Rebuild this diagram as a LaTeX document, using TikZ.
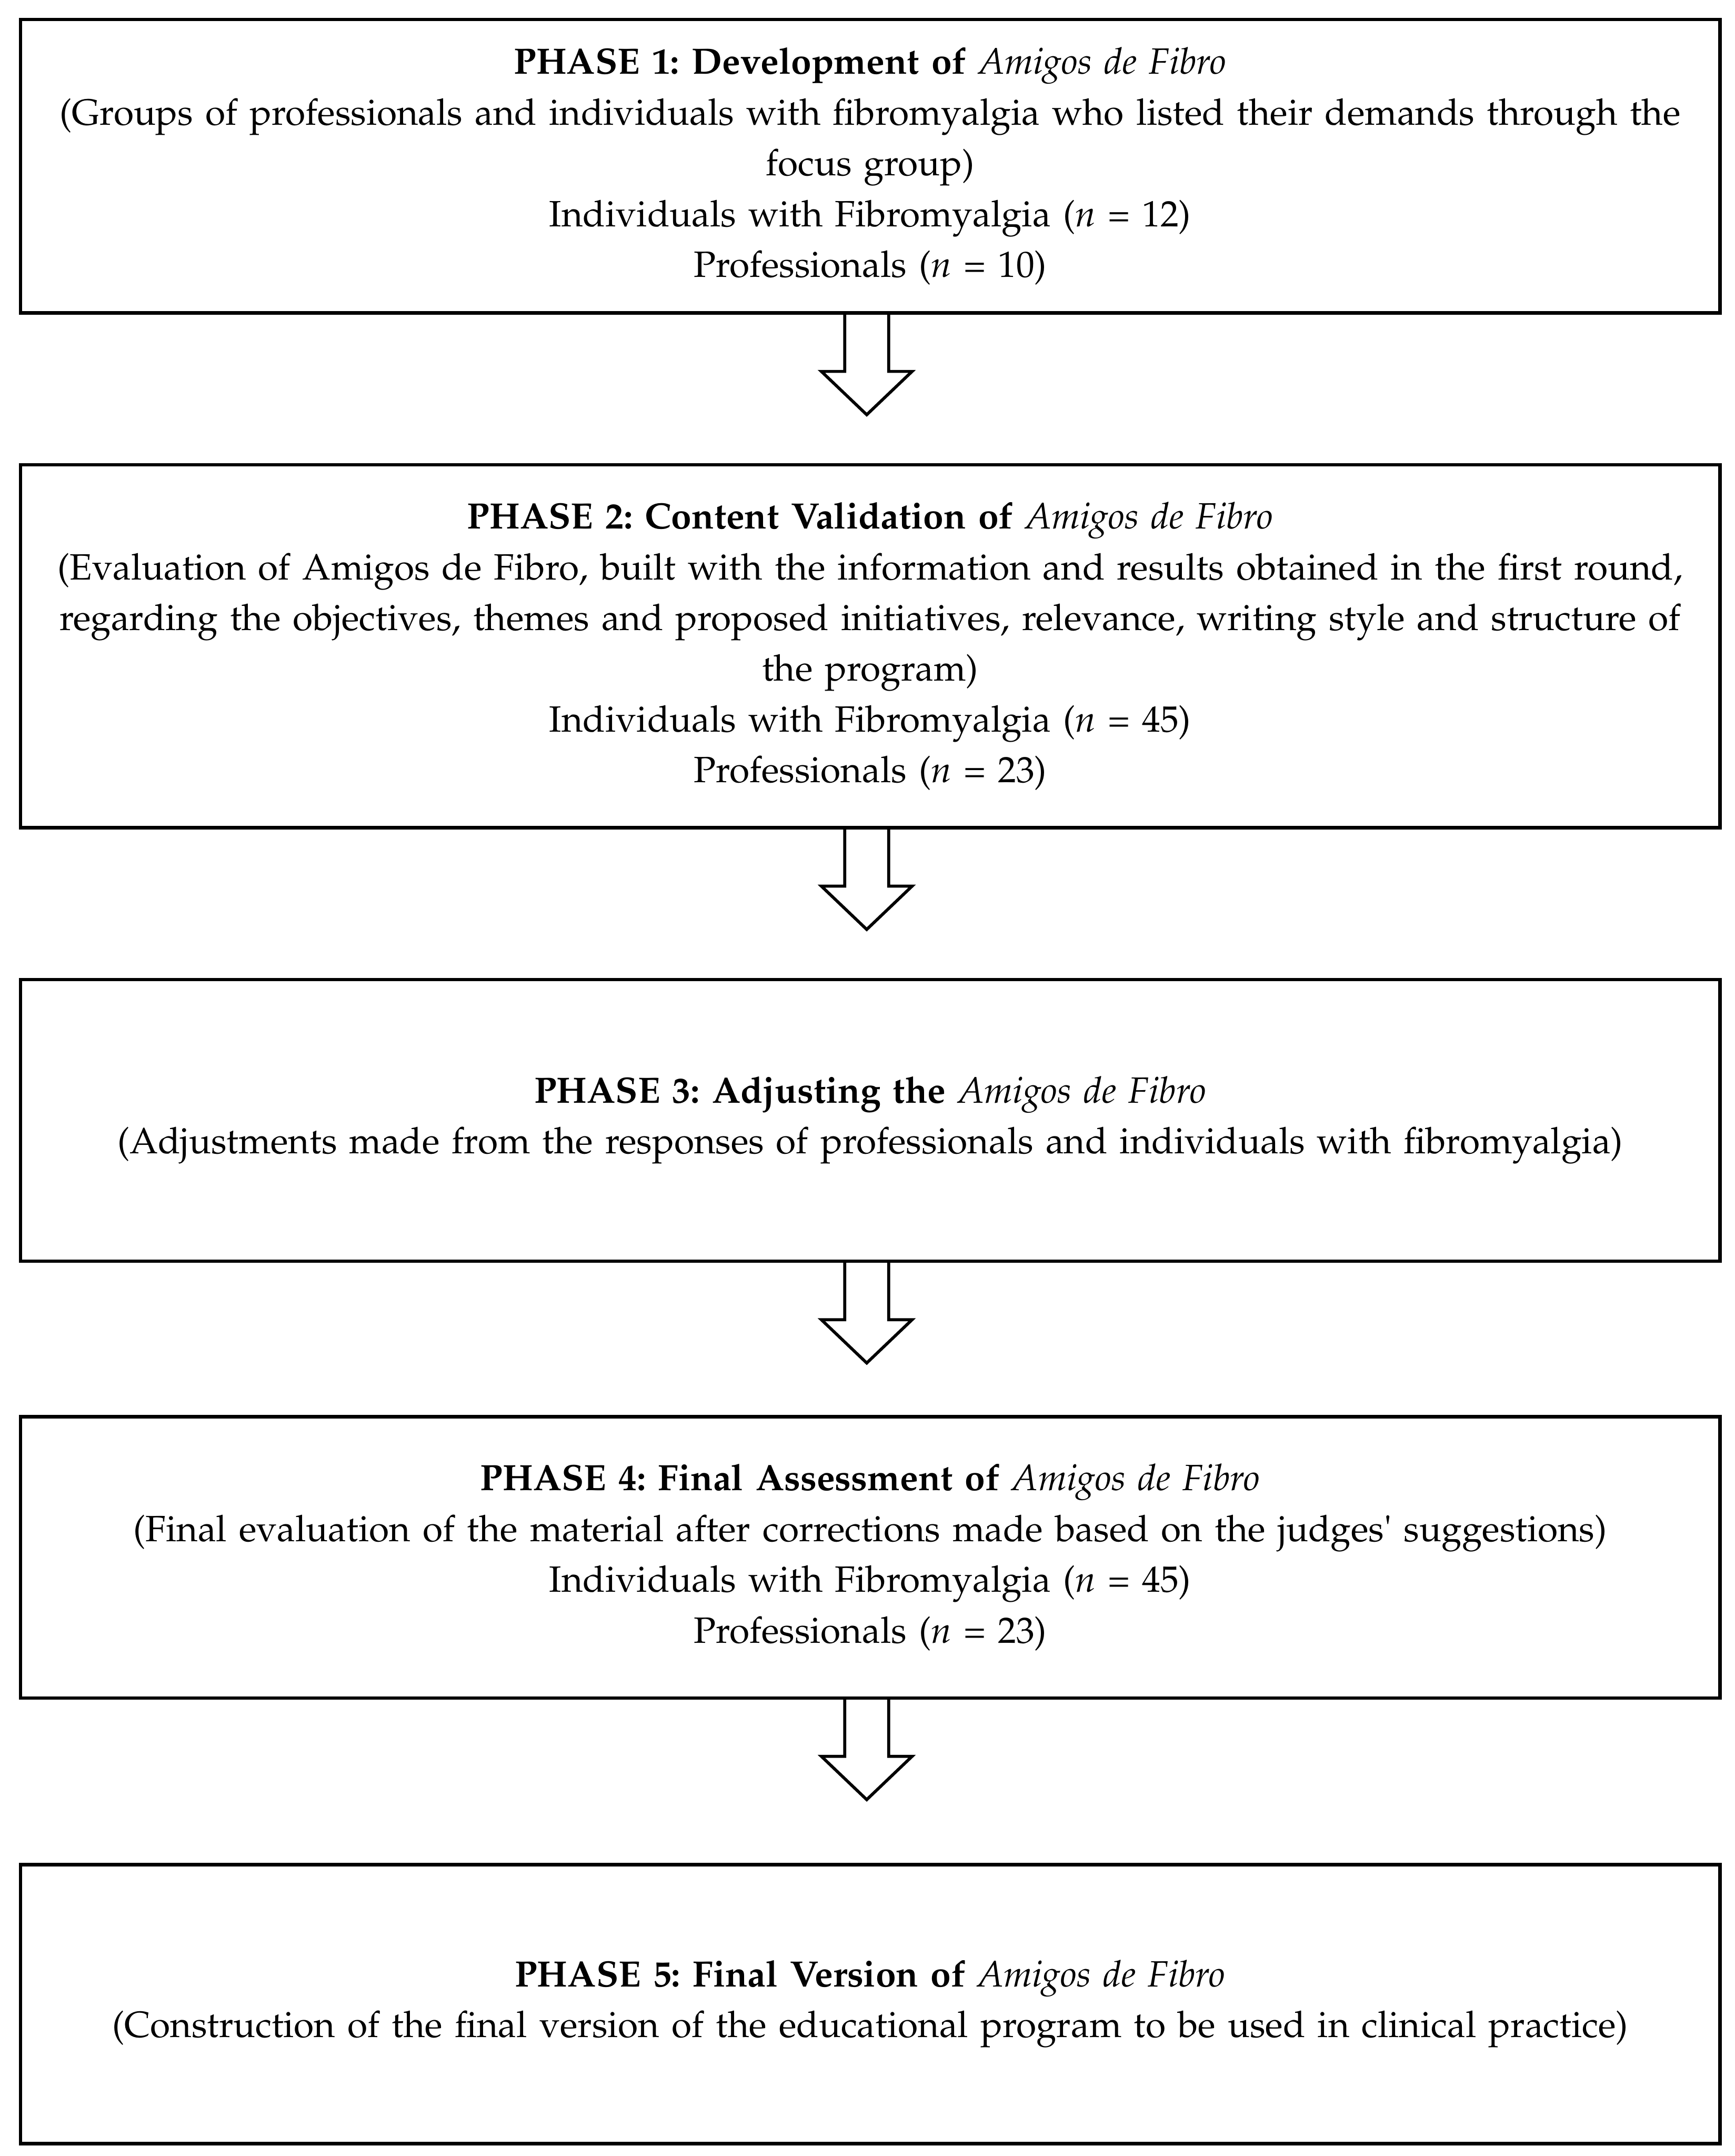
\documentclass[tikz,border=0pt]{standalone}
\usepackage[T1]{fontenc}
\usepackage{mathpazo}
\usepackage{tikz}
\usetikzlibrary{calc}
\frenchspacing

\begin{document}
\begin{tikzpicture}[x=0.02cm, y=-0.02cm,
    phasebox/.style={draw, line width=1.4pt, minimum width=24.73cm, text width=24.6cm,
      inner xsep=0pt, outer sep=0pt, align=center, font=\fontsize{15.15}{21}\selectfont},
    blockarrow/.style={line width=1.25pt, line join=miter}]
\useasboundingbox (0,0) rectangle (1262,1568);
% the five phases
\node[phasebox, minimum height=4.27cm] (p1) at (633,120.9) {\textbf{PHASE 1: Development of} \textit{Amigos de Fibro}\\
  (Groups of professionals and individuals with fibromyalgia who listed their demands through the\\
  focus group)\\
  Individuals with Fibromyalgia (\textit{n} = 12)\\
  Professionals (\textit{n} = 10)};
\node[phasebox, minimum height=5.28cm] (p2) at (633,470) {\textbf{PHASE 2: Content Validation of} \textit{Amigos de Fibro}\\
  (Evaluation of Amigos de Fibro, built with the information and results obtained in the first round,\\
  regarding the objectives, themes and proposed initiatives, relevance, writing style and structure of\\
  the program)\\
  Individuals with Fibromyalgia (\textit{n} = 45)\\
  Professionals (\textit{n} = 23)};
\node[phasebox, minimum height=4.1cm] (p3) at (633,814.8) {\textbf{PHASE 3: Adjusting the} \textit{Amigos de Fibro}\\
  (Adjustments made from the responses of professionals and individuals with fibromyalgia)};
\node[phasebox, minimum height=4.09cm] (p4) at (633,1132.6) {\textbf{PHASE 4: Final Assessment of} \textit{Amigos de Fibro}\\
  (Final evaluation of the material after corrections made based on the judges\textquotesingle\ suggestions)\\
  Individuals with Fibromyalgia (\textit{n} = 45)\\
  Professionals (\textit{n} = 23)};
\node[phasebox, minimum height=4.06cm] (p5) at (633,1457.5) {\textbf{PHASE 5: Final Version of} \textit{Amigos de Fibro}\\
  (Construction of the final version of the educational program to be used in clinical practice)};
% hollow arrows between phases
\foreach \a/\b in {p1/p2,p2/p3,p3/p4,p4/p5}{
  \coordinate (s) at ($(\a.south)+(-2.5,0)$);
  \coordinate (t) at ($(\b.north)+(-2.5,0)$);
  \draw[blockarrow] ($(s)+(-16,0)$) -- ($(s)!0.85cm!(t)+(-16,0)$) -- ($(s)!0.85cm!(t)+(-33,0)$)
    -- ($(s)!1.48cm!(t)$) -- ($(s)!0.85cm!(t)+(33,0)$) -- ($(s)!0.85cm!(t)+(16,0)$) -- ($(s)+(16,0)$);
}
\end{tikzpicture}
\end{document}
